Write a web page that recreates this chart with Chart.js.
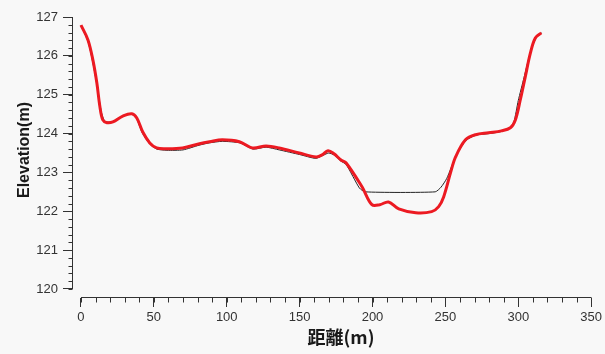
<!DOCTYPE html>
<html>
<head>
<meta charset="utf-8">
<script src="https://cdn.jsdelivr.net/npm/chart.js@4/dist/chart.umd.min.js"></script>
<style>
  html, body { margin: 0; padding: 0; background: #f8f8f8; }
  #wrap { width: 605px; height: 354px; position: relative; }
</style>
</head>
<body>
<div id="wrap"><canvas id="c" width="605" height="354"></canvas></div>
<script>
// ---- data ----
const redDist = [0,4.8,8.2,10.9,13,15,17.8,21.9,28.7,34.9,38.3,42.4,47.2,51.9,58.8,69.7,81.3,88.2,97,108.7,117.6,127,136,149.7,161.3,165.4,169.5,173.6,178.4,181.8,192.8,199.6,205,211,218,229.7,240.6,245.4,248.8,253.6,257,263.8,270.7,279.6,288.4,294.6,298,301.4,304.8,308.3,311.7,315.8];
const redElev = [126.79,126.41,125.89,125.30,124.69,124.35,124.28,124.30,124.45,124.51,124.40,124.04,123.76,123.63,123.61,123.63,123.74,123.79,123.84,123.79,123.63,123.68,123.63,123.50,123.40,123.45,123.56,123.48,123.32,123.25,122.63,122.17,122.17,122.24,122.06,121.96,121.99,122.12,122.37,123.0,123.40,123.84,123.97,124.02,124.07,124.15,124.35,124.87,125.46,126.07,126.46,126.59];
const blackDist = [0,5,8,11,14,16,18,22,29,35,38,42,47,52,59,70,81,88,97,109,118,127,136,150,161,165,170,174,178,182,191,195,243,247,251,257,264,271,280,288,294,297,300,304,308,312,316];
const blackElev = [126.79,126.35,125.85,125.25,124.55,124.33,124.30,124.30,124.45,124.50,124.40,124.02,123.74,123.60,123.57,123.58,123.70,123.76,123.80,123.76,123.60,123.65,123.58,123.46,123.36,123.42,123.50,123.44,123.30,123.20,122.60,122.50,122.50,122.62,122.85,123.40,123.82,123.96,124.00,124.05,124.15,124.30,124.85,125.45,126.05,126.45,126.59];
const xTickLabels = [0,50,100,150,200,250,300,350];
const yTickLabels = [120,121,122,123,124,125,126,127];
const xMinorStep = 10;
const yMinorStep = 0.2;
const xTitle = '距離(m)';
const yTitle = 'Elevation(m)';

const toXY = (xs, ys) => xs.map((x, i) => ({x: x, y: ys[i]}));
const AXIS = '#333333';

const axesPlugin = {
  id: 'axesPlugin',
  afterDraw(chart) {
    const ctx = chart.ctx;
    const xs = chart.scales.x, ys = chart.scales.y;
    const ca = chart.chartArea;
    ctx.save();
    ctx.strokeStyle = AXIS;
    ctx.lineWidth = 1;
    const yTop = ys.getPixelForValue(yTickLabels[yTickLabels.length-1]);
    const yBot = ys.getPixelForValue(yTickLabels[0]);
    const ax = Math.round(ca.left) + 0.5;
    ctx.beginPath(); ctx.moveTo(ax, yTop); ctx.lineTo(ax, yBot); ctx.stroke();
    const xL = xs.getPixelForValue(xTickLabels[0]);
    const xR = xs.getPixelForValue(xTickLabels[xTickLabels.length-1]);
    const ay = Math.round(ca.bottom) - 0.5;
    ctx.beginPath(); ctx.moveTo(xL, ay); ctx.lineTo(xR, ay); ctx.stroke();
    ctx.beginPath();
    for (let v = yTickLabels[0]; v <= yTickLabels[yTickLabels.length-1] + 1e-9; v += yMinorStep) {
      const p = Math.round(ys.getPixelForValue(v)) + 0.5;
      ctx.moveTo(ax - 4, p); ctx.lineTo(ax, p);
    }
    for (let v = xTickLabels[0]; v <= xTickLabels[xTickLabels.length-1] + 1e-9; v += xMinorStep) {
      const p = Math.round(xs.getPixelForValue(v)) + 0.5;
      ctx.moveTo(p, ay); ctx.lineTo(p, ay + 5);
    }
    ctx.stroke();
    ctx.fillStyle = '#1a1a1a';
    ctx.textAlign = 'center';
    ctx.textBaseline = 'middle';
    ctx.font = 'bold 16px "Liberation Sans", Arial, sans-serif';
    ctx.translate(25, 150);
    ctx.rotate(-Math.PI/2);
    ctx.fillText(yTitle, 0, 0);
    ctx.setTransform(1,0,0,1,0,0);
    ctx.font = 'bold 18px "Noto Sans CJK JP", sans-serif';
    ctx.fillText(xTitle, 341, 337);
    ctx.restore();
  }
};

new Chart(document.getElementById('c'), {
  type: 'scatter',
  data: {
    datasets: [
      {
        label: 'computed',
        data: toXY(redDist, redElev),
        showLine: true,
        borderColor: '#ec1a22',
        borderWidth: 3,
        pointRadius: 0,
        tension: 0.35,
        order: 0
      },
      {
        label: 'terrain',
        data: toXY(blackDist, blackElev),
        showLine: true,
        borderColor: '#222222',
        borderWidth: 1,
        pointRadius: 0,
        tension: 0.2,
        order: 1
      }
    ]
  },
  options: {
    responsive: false,
    animation: false,
    devicePixelRatio: 1,
    layout: { padding: { left: 0, top: 17, right: 12, bottom: 0 } },
    plugins: { legend: { display: false }, tooltip: { enabled: false } },
    scales: {
      x: {
        type: 'linear',
        min: -9 / (512 / 350),
        max: 350,
        afterBuildTicks: (s) => { s.ticks = xTickLabels.map(v => ({value: v})); },
        afterFit: (s) => { s.height = 56; },
        grid: { display: true, drawOnChartArea: false, drawTicks: true, tickLength: 9, color: AXIS },
        border: { display: false },
        ticks: { padding: 3, color: '#333', font: { family: '"Liberation Sans", Arial, sans-serif', size: 13 }, maxRotation: 0 }
      },
      y: {
        type: 'linear',
        min: 120 - 9 / (272 / 7),
        max: 127,
        afterBuildTicks: (s) => { s.ticks = yTickLabels.map(v => ({value: v})); },
        afterFit: (s) => { s.width = 72; },
        grid: { display: true, drawOnChartArea: false, drawTicks: true, tickLength: 9, color: AXIS },
        border: { display: false },
        ticks: { padding: 5, color: '#333', font: { family: '"Liberation Sans", Arial, sans-serif', size: 13 } }
      }
    }
  },
  plugins: [axesPlugin]
});
</script>
</body>
</html>
